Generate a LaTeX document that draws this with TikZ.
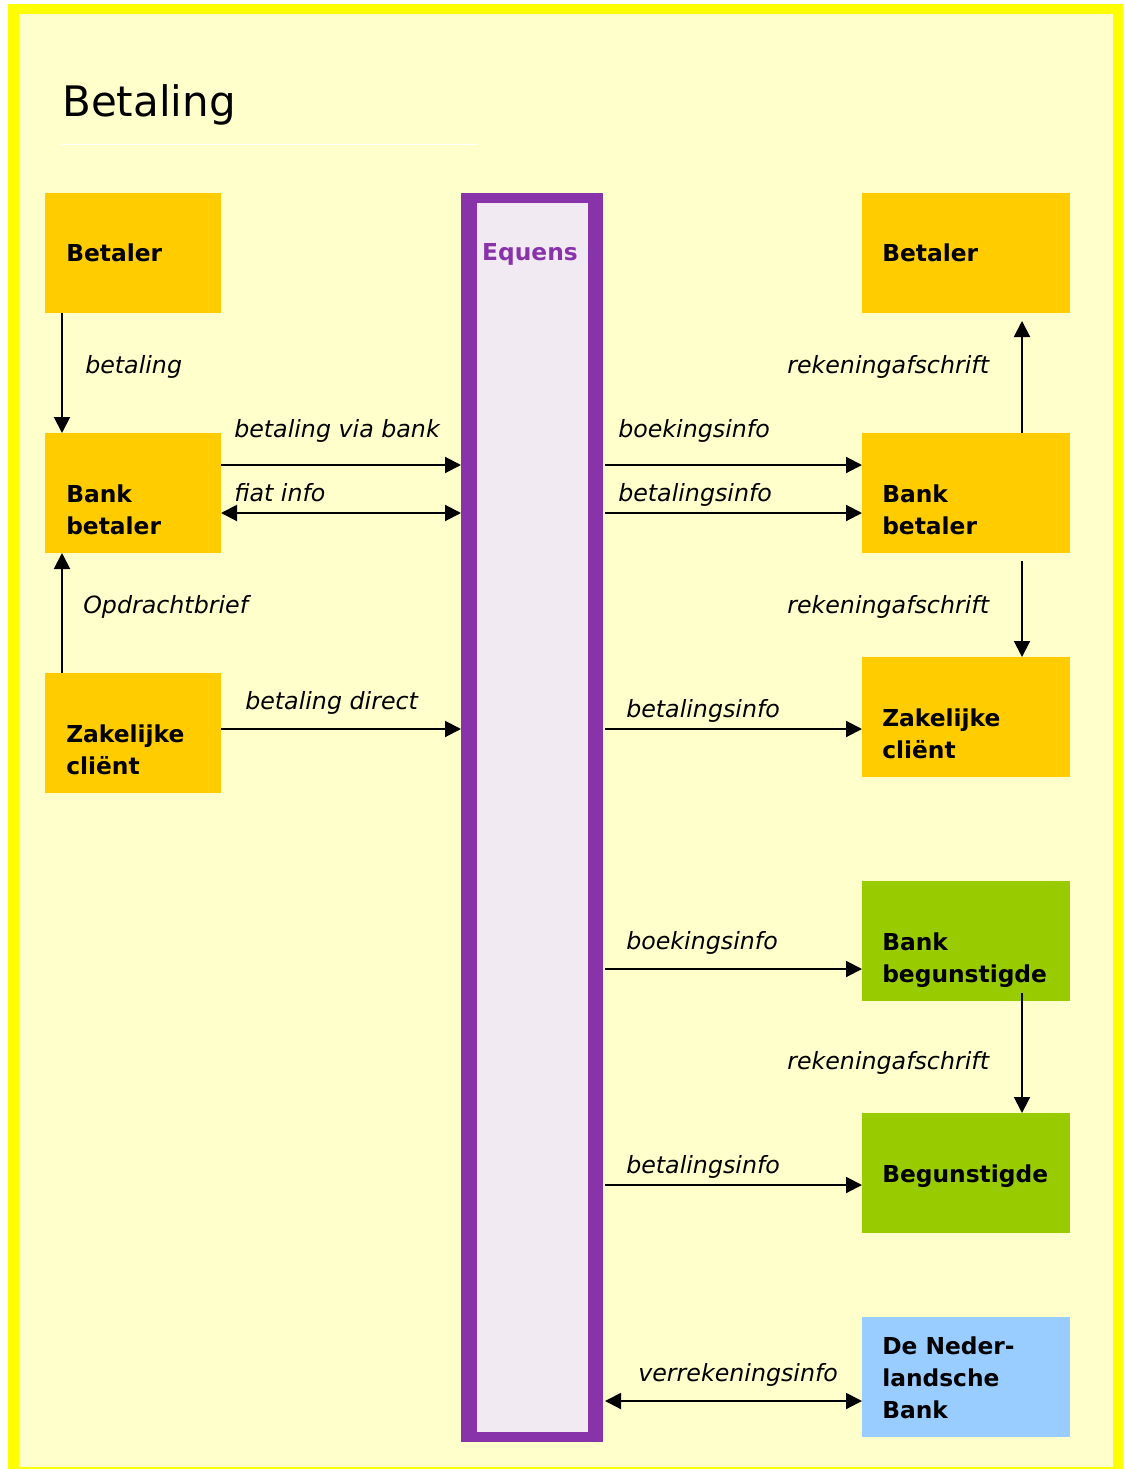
\documentclass[tikz,border=0pt]{standalone}
\usepackage{fontspec}
\setmainfont{DejaVu Sans}
\usetikzlibrary{arrows.meta}
\definecolor{frameY}{HTML}{FFFF00}
\definecolor{bgY}{HTML}{FFFFCC}
\definecolor{boxO}{HTML}{FFCC00}
\definecolor{boxG}{HTML}{99CC00}
\definecolor{boxB}{HTML}{99CCFF}
\definecolor{eqP}{HTML}{8833AA}
\definecolor{eqIn}{HTML}{F2EAF2}
\tikzset{
  x=0.75pt, y=-0.75pt,
  boxtxt/.style={anchor=base west, inner sep=0pt, font=\fontsize{17.5}{24}\selectfont\bfseries, align=left},
  lbl/.style={anchor=base west, inner sep=0pt, font=\fontsize{17.8}{20}\selectfont\itshape},
  arr/.style={line width=1.5pt, -{Triangle[length=12pt,width=12pt]}},
  darr/.style={line width=1.5pt, {Triangle[length=12pt,width=12pt]}-{Triangle[length=12pt,width=12pt]}},
}
\begin{document}
\begin{tikzpicture}
\useasboundingbox (0,0) rectangle (1124,1469);
\fill[white] (0,0) rectangle (1124,1469);
\fill[frameY] (8,4) rectangle (1123,1469);
\fill[bgY] (19,14) rectangle (1113,1467);
% title
\draw[white, line width=0.75pt] (61,73) -- (61,145) -- (478,145);
\node[anchor=base west, inner sep=0pt, font=\fontsize{31.5}{36}\selectfont] (title) at (62,117) {Betaling};
% Equens bar
\fill[eqP] (461,193) rectangle (603,1442);
\fill[eqIn] (477,203) rectangle (588,1432);
\node[anchor=base, inner sep=0pt, font=\fontsize{17.5}{24}\selectfont\bfseries, text=eqP] (eqlbl) at (530,261) {Equens};
% left boxes
\fill[boxO] (45,193) rectangle (221,313);
\fill[boxO] (45,433) rectangle (221,553);
\fill[boxO] (45,673) rectangle (221,793);
\node[boxtxt] (lbett) at (66,262) {Betaler};
\node[boxtxt] (lbbt) at (66,534) {Bank\\betaler};
\node[boxtxt] (lzct) at (66,774) {Zakelijke\\cliënt};
% right boxes
\fill[boxO] (862,193) rectangle (1070,313);
\fill[boxO] (862,433) rectangle (1070,553);
\fill[boxO] (862,657) rectangle (1070,777);
\fill[boxG] (862,881) rectangle (1070,1001);
\fill[boxG] (862,1113) rectangle (1070,1233);
\fill[boxB] (862,1317) rectangle (1070,1437);
\node[boxtxt] (rbett) at (882,262) {Betaler};
\node[boxtxt] (rbbt) at (882,534) {Bank\\betaler};
\node[boxtxt] (rzct) at (882,758) {Zakelijke\\cliënt};
\node[boxtxt] (rbbgt) at (882,982) {Bank\\begunstigde};
\node[boxtxt] (rbgt) at (882,1182) {Begunstigde};
\node[boxtxt] (dnbt) at (882,1418) {De Neder-\\landsche\\Bank};
% coordinates for connectors
\coordinate (a1s) at (62,313); \coordinate (a1e) at (62,433);
\coordinate (a2s) at (221,465); \coordinate (a2e) at (461,465);
\coordinate (a3s) at (221,513); \coordinate (a3e) at (461,513);
\coordinate (a4s) at (62,673); \coordinate (a4e) at (62,553);
\coordinate (a5s) at (221,729); \coordinate (a5e) at (461,729);
\coordinate (b1s) at (605,465); \coordinate (b1e) at (862,465);
\coordinate (b2s) at (605,513); \coordinate (b2e) at (862,513);
\coordinate (b3s) at (1022,433); \coordinate (b3e) at (1022,321);
\coordinate (b4s) at (1022,561); \coordinate (b4e) at (1022,657);
\coordinate (b5s) at (605,729); \coordinate (b5e) at (862,729);
\coordinate (b6s) at (605,969); \coordinate (b6e) at (862,969);
\coordinate (b7s) at (1022,993); \coordinate (b7e) at (1022,1113);
\coordinate (b8s) at (605,1185); \coordinate (b8e) at (862,1185);
\coordinate (b9s) at (605,1401); \coordinate (b9e) at (862,1401);
\draw[arr] (a1s) -- (a1e);
\draw[arr] (a2s) -- (a2e);
\draw[darr] (a3s) -- (a3e);
\draw[arr] (a4s) -- (a4e);
\draw[arr] (a5s) -- (a5e);
\draw[arr] (b1s) -- (b1e);
\draw[arr] (b2s) -- (b2e);
\draw[arr] (b3s) -- (b3e);
\draw[arr] (b4s) -- (b4e);
\draw[arr] (b5s) -- (b5e);
\draw[arr] (b6s) -- (b6e);
\draw[arr] (b7s) -- (b7e);
\draw[arr] (b8s) -- (b8e);
\draw[darr] (b9s) -- (b9e);
% labels
\node[lbl] (l1) at (85,373) {betaling};
\node[lbl] (l2) at (234,437) {betaling via bank};
\node[lbl] (l3) at (234,501) {fiat info};
\node[lbl] (l4) at (83,613) {Opdrachtbrief};
\node[lbl] (l5) at (245,709) {betaling direct};
\node[lbl] (m1) at (618,437) {boekingsinfo};
\node[lbl] (m2) at (618,501) {betalingsinfo};
\node[lbl] (m3) at (787,373) {rekeningafschrift};
\node[lbl] (m4) at (787,613) {rekeningafschrift};
\node[lbl] (m5) at (626,717) {betalingsinfo};
\node[lbl] (m6) at (626,949) {boekingsinfo};
\node[lbl] (m7) at (787,1069) {rekeningafschrift};
\node[lbl] (m8) at (626,1173) {betalingsinfo};
\node[lbl] (m9) at (638,1381) {verrekeningsinfo};
\end{tikzpicture}
\end{document}
